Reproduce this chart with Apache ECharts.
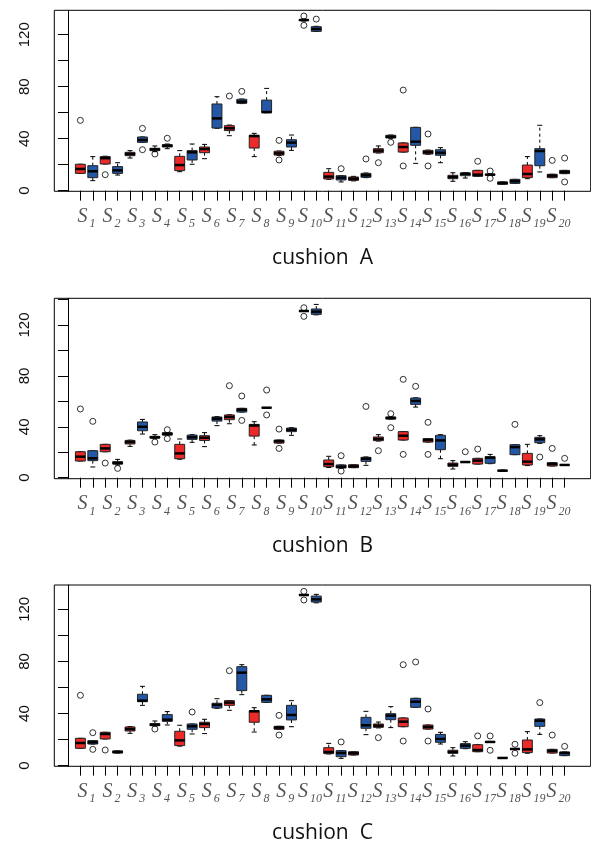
<!DOCTYPE html>
<html>
<head>
<meta charset="utf-8"/>
<script src="https://cdn.jsdelivr.net/npm/echarts@6/dist/echarts.min.js"></script>
<style>
  html, body { margin: 0; padding: 0; background: #fff; }
  #chart { width: 591px; height: 843px; }
</style>
</head>
<body>
<div id="chart"></div>
<script type="text/javascript">
// box order: S1 red, S1 blue, S2 red, S2 blue, ... S20 blue
var lowA  = [13.3, 7.7, 20.5, 12, 25.1, 37.2, 30, 32.3, 14.6, 20.3, 24.6, 48, 42.3, 67, 26.2, 60, 27, 31, 130.5, 122.5,
             8.7, 6.7, 7.5, 10, 29, 40.3, 29.7, 21, 28, 21.5, 7.2, 9.7, 11, 11.8, 4.9, 5.6, 9.2, 14.4, 10, 13.1];
var q1A   = [13.3, 10, 20.5, 13.3, 26.9, 37.2, 30.8, 33.6, 15.4, 23.6, 29.2, 48.2, 46.2, 67.2, 32.8, 60, 27.4, 33.6, 131, 122.6,
             9, 8.2, 7.9, 10.3, 29.2, 40.5, 29.7, 34.9, 28.2, 27.2, 9.2, 11.5, 11, 12, 4.9, 5.6, 10, 19.2, 10, 13.1];
var medA  = [16.7, 14.9, 25, 15.6, 28.2, 39, 31.8, 34.6, 19.7, 29.5, 32, 55.6, 48, 68.5, 42, 60.5, 28.7, 37, 131.3, 124.4,
             10.8, 10, 9.2, 11.8, 30.8, 41.5, 33.6, 37.7, 29.5, 29.2, 10.5, 13, 12.3, 12.3, 5.9, 7.2, 12.8, 30.5, 11.5, 14.4];
var q3A   = [20.3, 19.2, 26.2, 18.5, 29.5, 41.3, 32.6, 35.4, 26.4, 30.8, 33.6, 66.7, 50, 70.3, 42.6, 69.7, 30.3, 39.2, 131.5, 126.2,
             14.1, 11.5, 10.5, 13.3, 32.3, 42.6, 36.7, 48.7, 31, 31.5, 11.8, 13.6, 15.6, 12.6, 6.7, 8.7, 19.7, 32.3, 12.6, 15.6];
var highA = [20.3, 26.2, 26.5, 21.5, 30.8, 41.3, 34.4, 35.9, 30.8, 35.9, 35.6, 72.3, 50.5, 70.5, 44.1, 78.7, 30.5, 42.8, 132, 126.5,
             16.9, 11.5, 11, 13.6, 34.4, 42.8, 36.7, 48.7, 31.2, 33.1, 13.8, 13.8, 15.6, 12.8, 6.7, 8.7, 26.2, 50.3, 12.6, 15.6];
var outA  = [[1, 54.1], [3, 12.3], [6, 47.9], [6, 31.5], [7, 28.2], [8, 40.3], [13, 72.8], [14, 76.4], [17, 38.7], [17, 23.6],
             [19, 134.4], [19, 127.2], [20, 132], [22, 16.9], [24, 24.4], [25, 21.5], [26, 37.2], [27, 77.4], [27, 19],
             [29, 43.6], [29, 19], [33, 22.6], [34, 15.1], [34, 9.5], [39, 23.3], [40, 25.1], [40, 6.7]];

var lowB  = [13.1, 8.4, 20.4, 10, 24.6, 34.3, 31, 33.5, 14.5, 27.8, 24.4, 40.9, 42.4, 51.6, 25.7, 55, 27.2, 33.3, 131, 128,
             8, 7.6, 7.9, 9.7, 28.8, 46.1, 29.6, 55.5, 28, 14.9, 6.8, 12.3, 10.7, 11, 5, 18.1, 9.5, 27, 9.2, 10];
var q1B   = [13.1, 13.4, 20.4, 10.7, 26.5, 36.9, 31.2, 33.5, 14.9, 30.1, 29.3, 44.5, 45.6, 51.6, 32.7, 55, 27.2, 36.2, 131, 128.4,
             8.6, 7.6, 7.9, 12.8, 29.1, 46.1, 29.6, 57.6, 28, 22, 8.9, 12.3, 10.7, 11.3, 5.2, 18.1, 10, 27.5, 9.2, 10];
var medB  = [16.5, 15.2, 23, 11.5, 28, 40, 31.7, 34.3, 19.1, 31.7, 31.4, 46.4, 47.7, 53.4, 41, 55, 28.6, 37.7, 131, 130.5,
             10.7, 8.6, 8.9, 14.9, 30.4, 46.9, 33, 60.3, 29.6, 29.3, 10.2, 12.3, 13.4, 15.7, 5.5, 24, 12.6, 30.1, 10.7, 10];
var q3B   = [20.4, 21.2, 26.2, 12.6, 29.3, 43.8, 32.5, 35.4, 26.2, 33.5, 33, 47.7, 49.3, 54.5, 41.9, 55, 29.6, 39, 131, 132.6,
             13.9, 10, 10.2, 16, 32, 47.7, 36.2, 62.6, 30.7, 33.3, 11.5, 12.3, 15.2, 16.5, 5.8, 25.9, 19.1, 31.7, 11.8, 10];
var highB = [20.4, 21.2, 26.2, 14.4, 29.5, 45.8, 33.8, 35.4, 30.4, 33.8, 35.4, 48, 49.5, 54.5, 44, 55, 29.6, 39.3, 131, 136.2,
             16.8, 10, 10.2, 16.3, 33.8, 47.7, 36.2, 62.8, 30.7, 33.8, 13.4, 12.3, 15.2, 18.3, 6, 25.9, 26.2, 33, 11.8, 10];
var outB  = [[1, 54], [2, 44.3], [3, 11.5], [4, 7.3], [7, 28], [8, 37.7], [8, 30.7], [13, 72.3], [14, 64.2], [14, 45],
             [16, 68.9], [16, 49.3], [17, 38.2], [17, 23], [19, 133.6], [19, 126.8], [22, 17.3], [22, 5.2], [24, 56],
             [25, 21.2], [26, 50.3], [26, 39.3], [27, 77.3], [27, 18.3], [28, 71.8], [29, 43.5], [29, 18.3], [32, 20.4],
             [33, 22.5], [36, 41.9], [38, 16.2], [39, 23], [40, 15.2]];

var lowC  = [13.3, 16.6, 20.5, 9.7, 24.8, 46.3, 30.5, 31.2, 15, 24.3, 24.6, 44, 42.5, 54.5, 25.8, 48.6, 27.9, 29.9, 131, 125,
             9, 5.6, 8.2, 23.8, 29, 29.2, 29.9, 44.8, 28.1, 16.6, 7.4, 13, 10.7, 17.8, 5.7, 12.6, 9.5, 24, 9.7, 7.7];
var q1C   = [13.3, 16.6, 20.5, 9.7, 26.6, 49.1, 30.7, 34, 15.4, 27.9, 29.2, 44.3, 46.3, 57.6, 33.3, 48.6, 27.9, 35.1, 131, 125.6,
             9.2, 6.9, 8.2, 28.7, 29.4, 35.3, 29.9, 44.8, 28.1, 17.9, 9.5, 13.3, 10.7, 17.9, 5.8, 12.7, 10, 30.2, 9.7, 7.7];
var medC  = [17.4, 17.9, 24.3, 10.5, 28.1, 49.9, 31.5, 35.3, 19.4, 30.2, 32, 46.6, 48.4, 71.4, 41.7, 50.9, 29.2, 38.9, 131, 127.7,
             10.5, 9.7, 9.5, 31, 30.7, 38.4, 33.8, 49.1, 29.7, 20.5, 10.5, 15.4, 12, 18.2, 5.9, 12.8, 12.5, 34.5, 11.3, 9.7];
var q3C   = [21, 19.2, 25.6, 11.3, 29.7, 54.8, 32.2, 39.2, 26.4, 32, 33.3, 47.9, 49.9, 76, 42.2, 54, 30.2, 46.3, 131, 130.2,
             13.8, 11.5, 10.7, 37.1, 32, 39.9, 36.6, 51.7, 31.2, 24, 11.8, 16.9, 16.1, 18.5, 6, 12.9, 19.7, 35.8, 12.5, 10.5];
var highC = [21, 19.2, 25.6, 11.3, 30, 60.9, 34.3, 41.5, 31, 32, 35.6, 51.4, 50, 77.5, 44.5, 54, 30.2, 49.9, 131, 131.5,
             17.1, 11.5, 10.7, 41.7, 33.5, 45.3, 36.6, 51.7, 31.2, 25.6, 13.8, 18.4, 16.1, 18.6, 6.1, 13, 26.1, 35.8, 12.5, 10.5];
var outC  = [[1, 54], [2, 25.3], [2, 12.5], [3, 12], [7, 28.1], [10, 41.2], [13, 72.9], [17, 38.6], [17, 23.5],
             [19, 133.8], [19, 127.2], [22, 18.2], [25, 21.5], [27, 77.5], [27, 18.9], [28, 79.6], [29, 43.5], [29, 18.9],
             [33, 22.8], [34, 22.8], [34, 11.8], [36, 16.4], [36, 9.5], [38, 48.4], [39, 23.5], [40, 14.8]];

var panelNames = ['cushion  A', 'cushion  B', 'cushion  C'];
var yTicksA = [0, 20, 40, 60, 80, 100, 120];
var yTicksB = [0, 20, 40, 60, 80, 100, 120, 140];
var yLabels = [0, 40, 80, 120];

var RED = '#ec2a2a';
var BLUE = '#2458a6';

var panels = [
    {low: lowA, q1: q1A, med: medA, q3: q3A, high: highA, out: outA, ymin: -0.5, ymax: 138.8, ticks: yTicksA, top: 10.3, height: 181},
    {low: lowB, q1: q1B, med: medB, q3: q3B, high: highB, out: outB, ymin: -0.8, ymax: 141, ticks: yTicksB, top: 298.3, height: 180.4},
    {low: lowC, q1: q1C, med: medC, q3: q3C, high: highC, out: outC, ymin: -0.5, ymax: 138.7, ticks: yTicksA, top: 585, height: 181.3}
];

var boxTicks = [];
var labelPos = [];
for (var i = 1; i <= 40; i++) boxTicks.push(i);
for (var k = 1; k <= 20; k++) labelPos.push(2 * k - 0.5);

function renderBox(params, api) {
    var x = api.value(0);
    var lo = api.coord([x, api.value(1)]);
    var b1 = api.coord([x, api.value(2)]);
    var md = api.coord([x, api.value(3)]);
    var b3 = api.coord([x, api.value(4)]);
    var hi = api.coord([x, api.value(5)]);
    var hw = api.size([0.4, 0])[0];
    var sw = hw / 2;
    var cx = lo[0];
    var fill = (x % 2 === 1) ? RED : BLUE;
    var dash = {stroke: '#000', lineWidth: 1, lineDash: [3, 3]};
    var solid = {stroke: '#000', lineWidth: 1};
    return {
        type: 'group',
        children: [
            {type: 'line', shape: {x1: cx, y1: b3[1], x2: cx, y2: hi[1]}, style: dash},
            {type: 'line', shape: {x1: cx, y1: b1[1], x2: cx, y2: lo[1]}, style: dash},
            {type: 'line', shape: {x1: cx - sw, y1: hi[1], x2: cx + sw, y2: hi[1]}, style: solid},
            {type: 'line', shape: {x1: cx - sw, y1: lo[1], x2: cx + sw, y2: lo[1]}, style: solid},
            {type: 'rect', shape: {x: cx - hw, y: b3[1], width: 2 * hw, height: b1[1] - b3[1]},
                style: {fill: fill, stroke: '#222', lineWidth: 1}},
            {type: 'line', shape: {x1: cx - hw, y1: md[1], x2: cx + hw, y2: md[1]}, style: {stroke: '#000', lineWidth: 2.5}}
        ]
    };
}

var grids = [], xAxes = [], yAxes = [], series = [], graphics = [];

panels.forEach(function (p, n) {
    grids.push({left: 54.3, right: 0.3, top: p.top, height: p.height, show: true,
        borderColor: '#000', borderWidth: 1, backgroundColor: 'transparent'});
    xAxes.push({
        gridIndex: n, type: 'value', min: -1.1, max: 42.1,
        splitLine: {show: false},
        axisLine: {show: false},
        axisTick: {show: true, customValues: boxTicks, length: 10, lineStyle: {color: '#000', width: 1}},
        axisLabel: {
            customValues: labelPos, margin: 11,
            formatter: function (v) { return '{s|S}{n|' + Math.round((v + 0.5) / 2) + '}'; },
            rich: {
                s: {fontFamily: 'Liberation Serif', fontStyle: 'italic', fontSize: 20, color: '#555'},
                n: {fontFamily: 'Liberation Serif', fontStyle: 'italic', fontSize: 12, color: '#555', padding: [16, 0, 0, 2]}
            }
        }
    });
    yAxes.push({
        gridIndex: n, type: 'value', min: p.ymin, max: p.ymax,
        splitLine: {show: false},
        axisLine: {show: true, lineStyle: {color: '#000', width: 1}},
        axisTick: {show: true, customValues: p.ticks, length: 10, lineStyle: {color: '#000', width: 1}},
        axisLabel: {customValues: yLabels, rotate: 90, margin: 22, fontFamily: 'Liberation Sans', fontSize: 15, color: '#111'}
    });

    var boxes = [];
    for (var i = 0; i < 40; i++) {
        boxes.push([i + 1, p.low[i], p.q1[i], p.med[i], p.q3[i], p.high[i]]);
    }
    series.push({
        type: 'custom', xAxisIndex: n, yAxisIndex: n, renderItem: renderBox,
        encode: {x: 0, y: [1, 2, 3, 4, 5]}, data: boxes, silent: true
    });
    series.push({
        type: 'scatter', xAxisIndex: n, yAxisIndex: n, data: p.out, symbol: 'circle', symbolSize: 6,
        itemStyle: {color: 'rgba(0,0,0,0)', borderColor: '#000', borderWidth: 1}, silent: true
    });

    graphics.push({
        type: 'text', x: 322.5, y: p.top + p.height + 67,
        style: {text: panelNames[n], fontFamily: 'Open Sans', fontSize: 21, fill: '#111',
            textAlign: 'center', textVerticalAlign: 'middle'}
    });
});

var myChart = echarts.init(document.getElementById('chart'), null, {renderer: 'canvas'});
var option = {
    animation: false,
    backgroundColor: '#fff',
    grid: grids,
    xAxis: xAxes,
    yAxis: yAxes,
    series: series,
    graphic: graphics
};
myChart.setOption(option);
</script>
</body>
</html>
